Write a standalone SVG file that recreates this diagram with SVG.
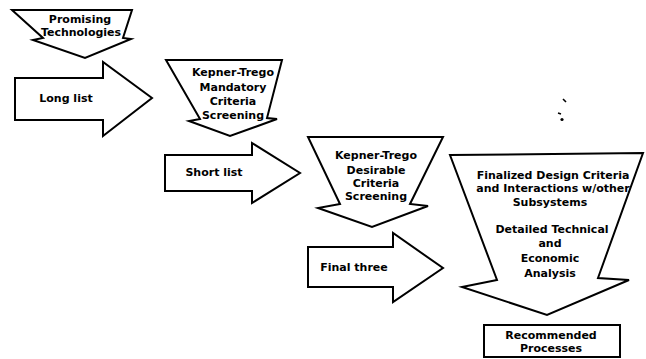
<svg xmlns="http://www.w3.org/2000/svg" width="646" height="359" viewBox="0 0 646 359">
<style>
.s{fill:#fff;stroke:#000;stroke-width:2;stroke-linejoin:miter}
.t{font-family:"DejaVu Sans","Liberation Sans",sans-serif;font-weight:bold;font-size:11px;fill:#000;text-anchor:middle}
</style>
<rect width="646" height="359" fill="#fff"/>
<g id="promising">
<polygon class="s" points="12,10 132,10 123,38 131,39 85,58 33,40 43,38"/>
<text class="t" x="80" y="23">Promising</text>
<text class="t" x="81" y="36">Technologies</text>
</g>
<g id="longlist">
<polygon class="s" points="15,78 103,78 103,62 152,98 103,136 103,120 15,120"/>
<text class="t" x="66" y="102">Long list</text>
</g>
<g id="mandatory">
<polygon class="s" points="166,60 282,60 267,118 277,119 230,136 189,121 200,119"/>
<text class="t" x="233" y="76">Kepner-Trego</text>
<text class="t" x="233" y="91">Mandatory</text>
<text class="t" x="233" y="105">Criteria</text>
<text class="t" x="233" y="119">Screening</text>
</g>
<g id="shortlist">
<polygon class="s" points="165,155 252,155 252,143 300,173 252,203 252,191 165,191"/>
<text class="t" x="214" y="176">Short list</text>
</g>
<g id="desirable">
<polygon class="s" points="308,137 443,137 410,204 428,206 372,227 318,208 340,204"/>
<text class="t" x="376" y="159">Kepner-Trego</text>
<text class="t" x="376" y="174">Desirable</text>
<text class="t" x="376" y="187">Criteria</text>
<text class="t" x="376" y="200">Screening</text>
</g>
<g id="finalthree">
<polygon class="s" points="308,247 393,247 393,233 443,268 393,302 393,287 308,287"/>
<text class="t" x="354" y="271">Final three</text>
</g>
<g id="analysis">
<polygon class="s" points="450,155 643,153 598,278 629,280 547,315 462,287 497,280"/>
<text class="t" x="553" y="179">Finalized Design Criteria</text>
<text class="t" x="553" y="192">and Interactions w/other</text>
<text class="t" x="550" y="206">Subsystems</text>
<text class="t" x="552" y="233">Detailed Technical</text>
<text class="t" x="550" y="247">and</text>
<text class="t" x="550" y="262">Economic</text>
<text class="t" x="550" y="277">Analysis</text>
</g>
<g id="recommended">
<rect class="s" x="484" y="325" width="136" height="32"/>
<text class="t" x="551" y="339">Recommended</text>
<text class="t" x="551" y="352">Processes</text>
</g>
<g id="specks" fill="#000" stroke="#000">
<path d="M563,99 L566,102" stroke-width="1.6"/>
<path d="M558,113 L561,114" stroke-width="1.6"/>
<circle cx="562" cy="119.5" r="1.6" stroke="none"/>
</g>
</svg>
